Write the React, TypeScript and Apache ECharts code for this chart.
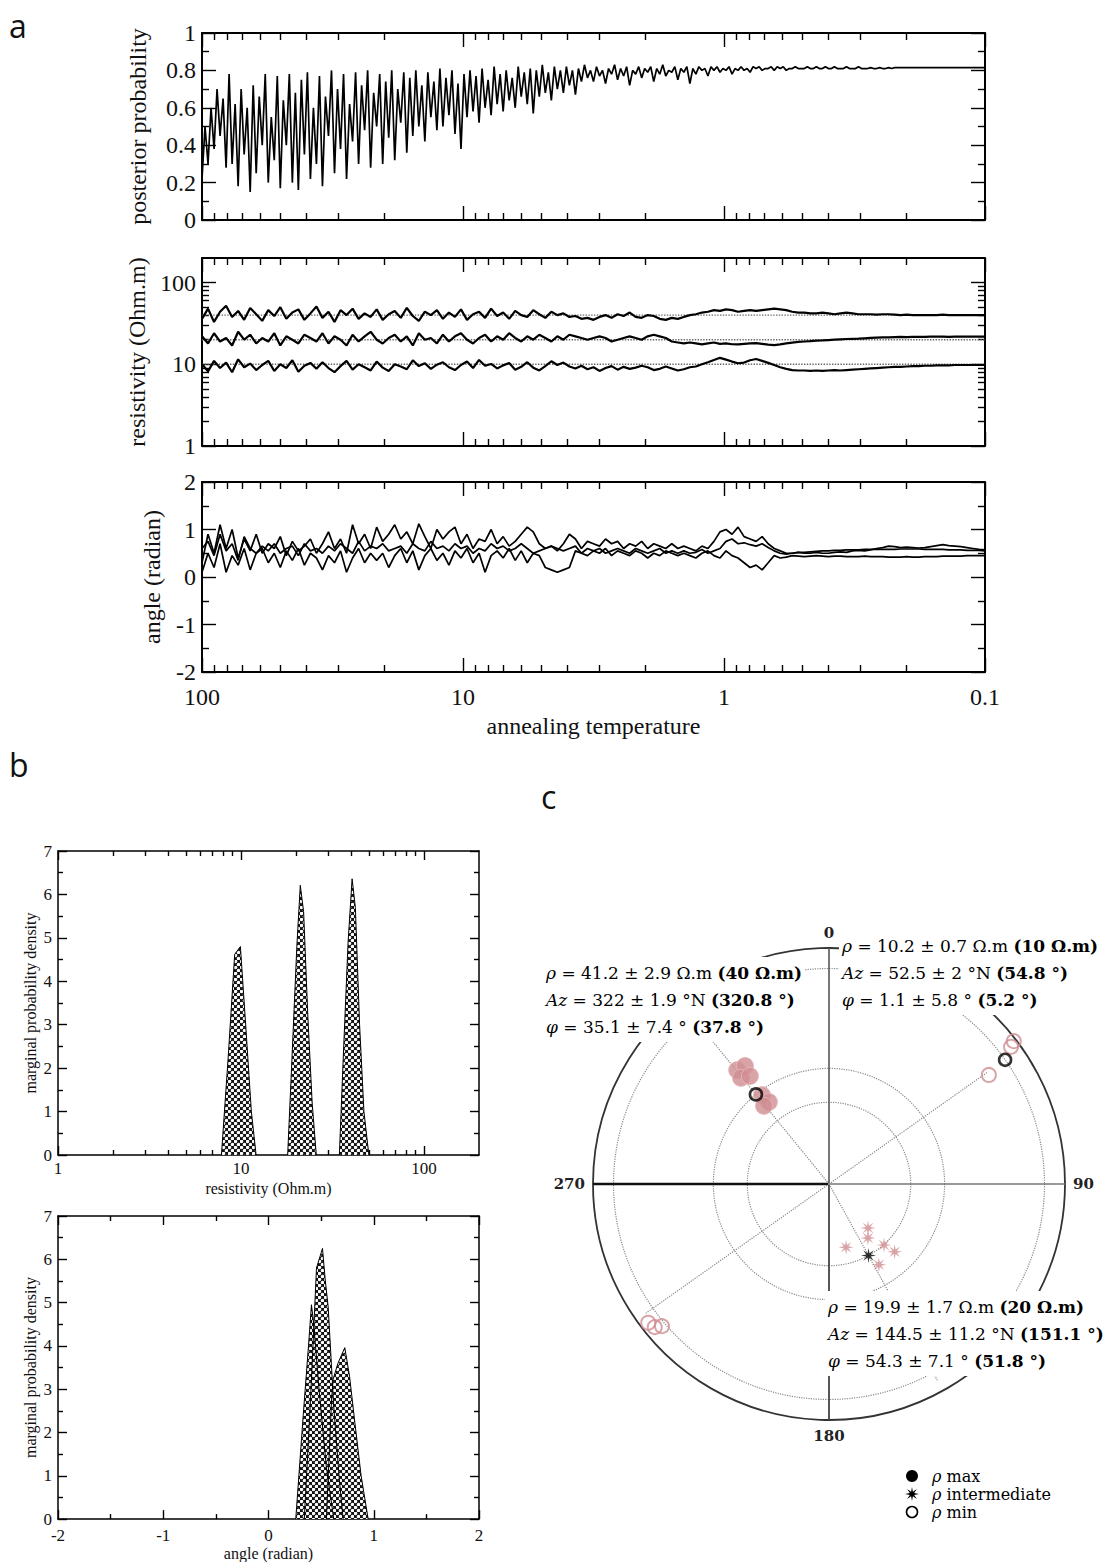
import React, { useEffect, useRef } from "react";
import * as echarts from "echarts";

// ---------------- Panel a : annealing traces ----------------
const temperatureDecades = [100, 10, 1, 0.1];

const posterior = [
  0.22, 0.5, 0.3, 0.6, 0.38, 0.7, 0.45, 0.65, 0.28, 0.78,
  0.3, 0.62, 0.18, 0.7, 0.35, 0.6, 0.15, 0.72, 0.25, 0.66,
  0.4, 0.78, 0.2, 0.55, 0.32, 0.77, 0.17, 0.64, 0.4, 0.78,
  0.2, 0.68, 0.16, 0.75, 0.35, 0.79, 0.22, 0.6, 0.3, 0.77,
  0.18, 0.66, 0.45, 0.8, 0.25, 0.7, 0.38, 0.78, 0.22, 0.62,
  0.42, 0.79, 0.3, 0.72, 0.48, 0.8, 0.28, 0.68, 0.5, 0.78,
  0.3, 0.74, 0.44, 0.8, 0.32, 0.7, 0.52, 0.79, 0.36, 0.76,
  0.45, 0.8, 0.5, 0.72, 0.42, 0.79, 0.55, 0.74, 0.48, 0.81,
  0.5, 0.76, 0.56, 0.8, 0.46, 0.73, 0.38, 0.78, 0.55, 0.8,
  0.58, 0.77, 0.52, 0.81, 0.6, 0.75, 0.56, 0.82, 0.62, 0.78,
  0.58, 0.8, 0.64, 0.76, 0.6, 0.82, 0.66, 0.79, 0.62, 0.81,
  0.57, 0.8, 0.66, 0.83, 0.68, 0.79, 0.64, 0.82, 0.7, 0.8,
  0.68, 0.82, 0.72, 0.8, 0.67, 0.81, 0.74, 0.83, 0.76, 0.8,
  0.74, 0.82, 0.77, 0.8, 0.73, 0.81, 0.78, 0.83, 0.75, 0.81,
  0.77, 0.82, 0.72, 0.8, 0.78, 0.82, 0.76, 0.81, 0.79, 0.82,
  0.74, 0.81, 0.78, 0.83, 0.77, 0.8, 0.79, 0.82, 0.75, 0.81,
  0.79, 0.82, 0.73, 0.81, 0.78, 0.82, 0.8, 0.81, 0.77, 0.82,
  0.8, 0.82, 0.79, 0.81, 0.8, 0.82, 0.78, 0.81, 0.8, 0.82,
  0.8, 0.81, 0.79, 0.82, 0.81, 0.82, 0.8, 0.81, 0.81, 0.82,
  0.8, 0.82, 0.81, 0.82, 0.8, 0.81, 0.81, 0.82, 0.81, 0.81,
  0.81, 0.82, 0.81, 0.81, 0.82, 0.81, 0.81, 0.82, 0.81, 0.81,
  0.82, 0.81, 0.81, 0.81, 0.82, 0.81, 0.81, 0.81, 0.82, 0.81,
  0.81, 0.81, 0.815, 0.81, 0.81, 0.815, 0.81, 0.81, 0.815, 0.81,
  0.815, 0.815, 0.815, 0.815, 0.815, 0.815, 0.815, 0.815, 0.815, 0.815,
  0.815, 0.815, 0.815, 0.815, 0.815, 0.815, 0.815, 0.815, 0.815, 0.815,
  0.815, 0.815, 0.815, 0.815, 0.815, 0.815, 0.815, 0.815, 0.815, 0.815,
  0.815,
];

const rhoTrace40 = [
  36, 48, 33, 44, 52, 38, 45, 35, 49, 41,
  34, 46, 39, 50, 36, 43, 47, 35, 42, 51,
  37, 44, 33, 46, 40, 48, 36, 42, 38, 47,
  35, 41, 45, 37, 49, 39, 34, 44, 40, 46,
  36, 43, 38, 47, 35, 41, 44, 37, 48, 39,
  43, 36, 45, 40, 38, 46, 41, 37, 44, 40,
  42, 38, 39, 36, 37, 35, 38, 40, 37, 41,
  39, 43, 38, 37, 40, 39, 36, 35, 37, 36,
  38, 40, 41, 43, 44, 46, 45, 47, 46, 44,
  45, 46, 45, 46, 47, 48, 47, 46, 44, 43,
  43, 42, 42, 43, 42, 41, 42, 43, 42, 41,
  41, 41, 40.5, 41, 41, 40.5, 40, 40.5, 40, 40,
  40, 40, 40, 40.5, 40, 40, 40, 40, 40, 40, 40,
];

const rhoTrace20 = [
  22, 18, 24, 19, 21, 17, 25, 20, 23, 18,
  21, 19, 24, 17, 22, 20, 18, 23, 21, 19,
  24, 18, 22, 20, 17, 23, 19, 22, 25, 20,
  18, 21, 23, 19, 22, 17, 24, 20, 21, 18,
  23, 19, 22, 24, 20, 18, 21, 23, 19, 22,
  20, 24, 21, 19, 22, 20, 23, 21, 19, 22,
  20, 23, 22, 21, 20, 21, 22, 21, 19, 20,
  21, 22, 21, 20, 22, 23, 22, 21, 19, 18.5,
  18, 18.5, 18, 17.5, 18, 18.5, 17.8, 18, 17.6, 17.5,
  17.8, 18, 18.2, 17.8, 17.4, 17.2, 17.5, 18, 18.4, 18.8,
  19, 19.2, 19.5, 19.6, 19.8, 20, 20.2, 20.4, 20.5, 20.6,
  20.8, 21, 21.2, 21.3, 21.4, 21.5, 21.6, 21.5, 21.6, 21.7,
  21.7, 21.8, 21.8, 21.8, 21.7, 21.8, 21.8, 21.8, 21.8, 21.8, 21.8,
];

const rhoTrace10 = [
  10, 8.2, 11, 9, 10.5, 8, 11.5, 9.2, 10.2, 8.5,
  9.8, 11, 8.3, 10, 9, 11.2, 8.1, 9.6, 10.4, 8.8,
  10.6, 9, 8, 9.5, 11, 8.6, 10, 9.2, 8.4, 10.8,
  9.1, 8.3, 10, 9.4, 8.7, 11.2, 9.5, 10.3, 8.8, 9.9,
  10.6, 9.2, 8.5, 9.8, 10.8, 9, 11.3, 9.6, 10.1, 8.9,
  9.7, 10.4, 8.6, 9.3, 10.6, 9.1, 8.4, 9.5, 10.9, 9.8,
  10.5, 9.4, 8.9, 9.6, 8.7, 9.2, 8.3, 9, 9.5, 8.6,
  9.3, 8.8, 9.1, 9.6, 9.2, 8.5, 8.8, 9.4, 8.9, 8.4,
  8.7, 9.2, 9.4, 10, 10.6, 11.3, 12, 11.4, 10.8, 10.3,
  10.5, 11.2, 11.6, 11, 10.4, 9.8, 9.2, 8.8, 8.5, 8.4,
  8.4, 8.3, 8.4, 8.3, 8.4, 8.5, 8.4, 8.5, 8.6, 8.7,
  8.8, 8.9, 9, 9.1, 9.2, 9.3, 9.3, 9.4, 9.5, 9.5,
  9.6, 9.6, 9.7, 9.7, 9.7, 9.8, 9.8, 9.8, 9.8, 9.8, 9.8,
];

const rhoTrue = [40, 20, 10];

const angleTraceA = [
  0.3, 0.9, 0.5, 1.1, 0.6, 1.0, 0.4, 0.8, 0.55, 0.9,
  0.5, 0.7, 0.6, 0.85, 0.45, 0.75, 0.55, 0.65, 0.8, 0.5,
  0.7, 0.95, 0.6, 0.8, 0.5, 1.1, 0.7, 0.9, 0.6, 1.05,
  0.75, 0.9, 1.1, 0.8, 0.95, 0.7, 1.12, 0.85, 0.6, 1.0,
  0.8, 0.95, 1.05, 0.7, 0.9, 0.6, 0.8, 0.75, 1.0, 0.7,
  0.85, 0.65, 0.75, 0.9, 1.05, 0.95, 0.7, 0.6, 0.65, 0.55,
  0.7, 0.9, 0.8, 0.6, 0.75, 0.7, 0.65, 0.8, 0.7, 0.75,
  0.6, 0.7, 0.65, 0.75, 0.6, 0.7, 0.65, 0.6, 0.7, 0.6,
  0.65, 0.6, 0.55, 0.65, 0.6, 0.75, 0.95, 1.0, 0.9, 1.05,
  0.85, 0.8, 0.75, 0.85, 0.7, 0.6, 0.55, 0.5, 0.5, 0.52,
  0.5, 0.5, 0.52, 0.5, 0.5, 0.52, 0.53, 0.52, 0.55, 0.56,
  0.55, 0.57, 0.6, 0.62, 0.65, 0.64, 0.62, 0.63, 0.62, 0.61,
  0.62, 0.64, 0.66, 0.68, 0.66, 0.65, 0.64, 0.62, 0.6, 0.58, 0.57,
];

const angleTraceB = [
  0.1, 0.5, 0.2, 0.7, 0.1, 0.45, 0.25, 0.6, 0.15, 0.5,
  0.6, 0.3, 0.5, 0.2, 0.55, 0.35, 0.6, 0.25, 0.5, 0.4,
  0.15, 0.45, 0.3, 0.55, 0.1, 0.4, 0.6, 0.3, 0.5, 0.35,
  0.5, 0.2, 0.45, 0.6, 0.3, 0.55, 0.15, 0.45, 0.6, 0.35,
  0.5, 0.25, 0.55, 0.4, 0.6, 0.3, 0.5, 0.1, 0.45, 0.55,
  0.4, 0.6, 0.35, 0.55, 0.3, 0.5, 0.45, 0.2, 0.15, 0.1,
  0.15, 0.2, 0.55, 0.5, 0.45, 0.55, 0.5, 0.6, 0.45, 0.55,
  0.5, 0.45, 0.55, 0.5, 0.4, 0.5, 0.45, 0.55, 0.5, 0.45,
  0.5, 0.45, 0.4, 0.5, 0.55, 0.45, 0.4, 0.55, 0.45, 0.4,
  0.3, 0.2, 0.25, 0.15, 0.3, 0.45, 0.4, 0.42, 0.45, 0.44,
  0.43, 0.44, 0.45, 0.44, 0.43, 0.44, 0.44, 0.43, 0.43, 0.43,
  0.44, 0.43, 0.43, 0.43, 0.42, 0.42, 0.42, 0.43, 0.42, 0.42,
  0.43, 0.43, 0.43, 0.44, 0.44, 0.44, 0.44, 0.45, 0.45, 0.45, 0.45,
];

const angleTraceC = [
  0.6, 0.75, 0.45, 0.9, 0.55, 0.7, 0.35, 0.85, 0.6, 0.5,
  0.65, 0.55, 0.7, 0.5, 0.6, 0.65, 0.45, 0.7, 0.55, 0.6,
  0.5, 0.65, 0.55, 0.7, 0.6, 0.5, 0.75, 0.55, 0.65, 0.6,
  0.7, 0.55, 0.6, 0.65, 0.5, 0.7, 0.6, 0.55, 0.75, 0.6,
  0.65, 0.55, 0.7, 0.6, 0.65, 0.5, 0.6, 0.55, 0.7, 0.6,
  0.65, 0.55, 0.6, 0.7, 0.6, 0.5, 0.55, 0.6, 0.65, 0.6,
  0.55, 0.6, 0.65, 0.5, 0.6, 0.55, 0.6, 0.5, 0.55, 0.6,
  0.55, 0.5, 0.6, 0.55, 0.5, 0.55, 0.6, 0.5, 0.55, 0.5,
  0.55, 0.5, 0.52, 0.58, 0.5, 0.55, 0.6, 0.75, 0.8, 0.7,
  0.72, 0.68, 0.65, 0.7, 0.62, 0.55, 0.5, 0.48, 0.5, 0.52,
  0.52, 0.53, 0.54, 0.55, 0.55, 0.56, 0.56, 0.57, 0.57, 0.57,
  0.58, 0.58, 0.58, 0.58, 0.58, 0.58, 0.59, 0.59, 0.59, 0.59,
  0.58, 0.58, 0.58, 0.58, 0.57, 0.57, 0.57, 0.56, 0.56, 0.56, 0.55,
];

// ---------------- Panel b : marginal densities ----------------
const resPeak10 = [[7.82, 0], [8.5, 2.2], [9.24, 4.62], [9.93, 4.8], [10.65, 2.9], [11.4, 1.0], [12.1, 0]];
const resPeak20 = [[18.0, 0], [18.9, 2.0], [20.2, 4.8], [21.1, 6.21], [22.0, 5.6], [23.2, 3.2], [24.5, 1.2], [25.8, 0]];
const resPeak40 = [[34.5, 0], [36.2, 2.2], [38.5, 4.9], [40.5, 6.36], [42.2, 5.7], [44.5, 3.0], [47, 1.0], [50, 0]];
const angPeak1 = [[0.259, 0], [0.33, 2.4], [0.38, 4.0], [0.408, 4.95], [0.43, 4.5], [0.48, 3.0], [0.55, 1.2], [0.62, 0]];
const angPeak2 = [[0.34, 0], [0.4, 2.8], [0.456, 5.8], [0.513, 6.25], [0.54, 5.5], [0.567, 4.9], [0.62, 2.6], [0.67, 1.0], [0.709, 0]];
const angPeak3 = [[0.55, 0], [0.6, 2.8], [0.614, 3.23], [0.66, 3.6], [0.725, 3.96], [0.77, 3.3], [0.82, 2.24], [0.88, 1.0], [0.947, 0]];

// ---------------- Panel c : stereonet ----------------
const maxAz = [321.1, 324.6, 320.3, 323.8, 323.0, 323.8, 320.2];
const maxDip = [26.4, 26.9, 29.4, 30.9, 39.5, 43.4, 43.4];
const intAz = [138.4, 144.2, 164.9, 138.0, 135.9, 148.3];
const intDip = [62.0, 58.5, 59.0, 51.6, 46.4, 46.2];
const minAz = [55.7, 53.0, 52.3, 232.5, 230.6, 229.6];
const minDip = [11.3, 2.0, 0.6, 2.0, 2.6, 4.2];
// true values: max, intermediate, min
const trueAz = [320.8, 151.1, 54.8];
const trueDip = [37.8, 51.8, 5.2];
const radialLen = [0.95, 0.95, 0.82];
const angleLabels = [0, 90, 180, 270];

const textRight = [["ρ", " = 10.2 ± 0.7 Ω.m ", "(10 Ω.m)"], ["Az", " = 52.5 ± 2 °N ", "(54.8 °)"], ["φ", " = 1.1 ± 5.8 ° ", "(5.2 °)"]];
const textLeft = [["ρ", " = 41.2 ± 2.9 Ω.m ", "(40 Ω.m)"], ["Az", " = 322 ± 1.9 °N ", "(320.8 °)"], ["φ", " = 35.1 ± 7.4 ° ", "(37.8 °)"]];
const textBottom = [["ρ", " = 19.9 ± 1.7 Ω.m ", "(20 Ω.m)"], ["Az", " = 144.5 ± 11.2 °N ", "(151.1 °)"], ["φ", " = 54.3 ± 7.1 ° ", "(51.8 °)"]];
const legendLabels = ["max", "intermediate", "min"];

// ---------------- helpers ----------------
const SERIF = '"Liberation Serif", "Times New Roman", Times, serif';
const SCHOOL = '"DejaVu Serif", "Liberation Serif", serif';
const SANS = '"Open Sans", "DejaVu Sans", sans-serif';
const PINK_TEXT = "#a8486e";
const PINK_MARK = "#cf8d92";

const MULT = [2, 3, 4, 5, 6, 7, 8, 9];
const decadeMinor = (decs: number[]) => decs.flatMap((d) => MULT.map((m) => d + Math.log10(m)));
const powLabel = (v: number) => String(Number(Math.pow(10, v).toPrecision(6)));
const traceX = (i: number, n: number) =>
  Math.log10(temperatureDecades[0]) -
  ((Math.log10(temperatureDecades[0]) - Math.log10(temperatureDecades[3])) * i) / (n - 1);
const proj = (dip: number) => Math.tan((((90 - dip) / 2) * Math.PI) / 180);

function starPoints(cx: number, cy: number, R: number, inner: number) {
  const pts: number[][] = [];
  for (let k = 0; k < 16; k++) {
    const a = (Math.PI * k) / 8;
    const r = k % 2 === 0 ? R : R * inner;
    pts.push([cx + r * Math.sin(a), cy - r * Math.cos(a)]);
  }
  return pts;
}
const STAR_PATH =
  "path://M" + starPoints(0, 0, 10, 0.33).map((p) => p[0].toFixed(3) + " " + p[1].toFixed(3)).join(" L") + " Z";

function buildOption(hatch: any) {
  const xAxis: any[] = [];
  const yAxis: any[] = [];
  const tickStyle = { color: "#000", width: 1.4 };

  function addAxes(list: any[], dim: string, gridIndex: number, s: any) {
    const sides = dim === "x" ? ["bottom", "top"] : ["left", "right"];
    let mainIdx = -1;
    sides.forEach((pos, si) => {
      const ax: any = {
        type: "value",
        gridIndex,
        position: pos,
        min: s.min,
        max: s.max,
        inverse: !!s.inverse,
        splitLine: { show: false },
        axisLine: { show: true, onZero: false, lineStyle: { color: "#000", width: s.lw } },
        axisTick: { show: true, inside: true, length: s.majorLen, lineStyle: tickStyle },
        axisLabel: {
          show: si === 0 && s.labels,
          margin: s.labelMargin,
          fontSize: s.labelSize,
          fontFamily: SERIF,
          color: "#111",
        },
      };
      if (s.fmt) ax.axisLabel.formatter = s.fmt;
      if (si === 0 && s.name) {
        ax.name = s.name;
        ax.nameLocation = "middle";
        ax.nameGap = s.nameGap;
        ax.nameTextStyle = { fontSize: s.nameSize, fontFamily: SERIF, color: "#111" };
      }
      if (s.major) {
        ax.axisTick.customValues = s.major;
        ax.axisLabel.customValues = s.major;
      } else {
        ax.interval = s.interval;
        ax.minorTick = { show: true, splitNumber: s.minorSplit, length: s.minorLen, lineStyle: tickStyle };
      }
      if (si === 0) mainIdx = list.length;
      list.push(ax);
      if (s.minor) {
        list.push({
          type: "value",
          gridIndex,
          position: pos,
          min: s.min,
          max: s.max,
          inverse: !!s.inverse,
          splitLine: { show: false },
          axisLine: { show: false, onZero: false },
          axisTick: { show: true, inside: true, length: s.minorLen, customValues: s.minor, lineStyle: tickStyle },
          axisLabel: { show: false },
        });
      }
    });
    return mainIdx;
  }

  const grid = [
    { left: 202, top: 33, width: 783, height: 187 },
    { left: 202, top: 258, width: 783, height: 188 },
    { left: 202, top: 482, width: 783, height: 190 },
    { left: 58, top: 851, width: 421, height: 304 },
    { left: 58, top: 1216, width: 421, height: 305 },
  ];

  const tLog = temperatureDecades.map((t) => Math.log10(t));
  const ax: number[] = [];
  const ay: number[] = [];
  for (let g = 0; g < 3; g++) {
    ax.push(
      addAxes(xAxis, "x", g, {
        min: Math.min(...tLog), max: Math.max(...tLog), inverse: true,
        major: tLog, minor: decadeMinor([-1, 0, 1]), fmt: powLabel,
        labels: g === 2, labelSize: 24, labelMargin: 13,
        name: g === 2 ? "annealing temperature" : null, nameGap: 42, nameSize: 24,
        majorLen: 14, minorLen: 7, lw: 2,
      })
    );
  }
  ay.push(addAxes(yAxis, "y", 0, {
    min: 0, max: 1, interval: 0.2, minorSplit: 2, labels: true, labelSize: 24, labelMargin: 6,
    name: "posterior probability", nameGap: 52, nameSize: 24, majorLen: 14, minorLen: 7, lw: 2,
  }));
  ay.push(addAxes(yAxis, "y", 1, {
    min: 0, max: Math.log10(200), major: [0, 1, 2], minor: decadeMinor([0, 1]), fmt: powLabel,
    labels: true, labelSize: 24, labelMargin: 6,
    name: "resistivity (Ohm.m)", nameGap: 52, nameSize: 24, majorLen: 14, minorLen: 7, lw: 2,
  }));
  ay.push(addAxes(yAxis, "y", 2, {
    min: -2, max: 2, interval: 1, minorSplit: 2, labels: true, labelSize: 24, labelMargin: 6,
    name: "angle (radian)", nameGap: 38, nameSize: 24, majorLen: 14, minorLen: 7, lw: 2,
  }));
  const bx1 = addAxes(xAxis, "x", 3, {
    min: 0, max: Math.log10(200), major: [0, 1, 2], minor: decadeMinor([0, 1]), fmt: powLabel,
    labels: true, labelSize: 17, labelMargin: 5,
    name: "resistivity (Ohm.m)", nameGap: 25, nameSize: 16, majorLen: 9, minorLen: 5, lw: 1.5,
  });
  const by1 = addAxes(yAxis, "y", 3, {
    min: 0, max: 7, interval: 1, minorSplit: 2, labels: true, labelSize: 17, labelMargin: 6,
    name: "marginal probability density", nameGap: 20, nameSize: 16, majorLen: 9, minorLen: 5, lw: 1.5,
  });
  const bx2 = addAxes(xAxis, "x", 4, {
    min: -2, max: 2, interval: 1, minorSplit: 2, labels: true, labelSize: 17, labelMargin: 8,
    name: "angle (radian)", nameGap: 25, nameSize: 16, majorLen: 9, minorLen: 5, lw: 1.5,
  });
  const by2 = addAxes(yAxis, "y", 4, {
    min: 0, max: 7, interval: 1, minorSplit: 2, labels: true, labelSize: 17, labelMargin: 6,
    name: "marginal probability density", nameGap: 20, nameSize: 16, majorLen: 9, minorLen: 5, lw: 1.5,
  });

  const series: any[] = [];
  const line = (xi: number, yi: number, data: any[], style: any, extra: any = {}) => ({
    type: "line", xAxisIndex: xi, yAxisIndex: yi, data, symbol: "none", showSymbol: false,
    lineStyle: style, clip: true, silent: true, z: 3, ...extra,
  });

  series.push(line(ax[0], ay[0], posterior.map((v, i) => [traceX(i, posterior.length), v]), { color: "#000", width: 1.7 }));
  rhoTrue.forEach((v) =>
    series.push(line(ax[1], ay[1], [[tLog[0], Math.log10(v)], [tLog[3], Math.log10(v)]], { color: "#666", width: 1.4, type: "dotted" }, { z: 2 }))
  );
  [rhoTrace40, rhoTrace20, rhoTrace10].forEach((arr) =>
    series.push(line(ax[1], ay[1], arr.map((v, i) => [traceX(i, arr.length), Math.log10(v)]), { color: "#000", width: 2.2 }))
  );
  [angleTraceA, angleTraceB, angleTraceC].forEach((arr) =>
    series.push(line(ax[2], ay[2], arr.map((v, i) => [traceX(i, arr.length), v]), { color: "#000", width: 1.7 }))
  );
  [resPeak10, resPeak20, resPeak40].forEach((p) =>
    series.push(line(bx1, by1, p.map(([x, y]) => [Math.log10(x), y]), { color: "#000", width: 1 }, { areaStyle: { color: hatch, opacity: 1 } }))
  );
  [angPeak1, angPeak2, angPeak3].forEach((p) =>
    series.push(line(bx2, by2, p, { color: "#000", width: 1 }, { areaStyle: { color: hatch, opacity: 1 } }))
  );

  // ---- polar (panel c) ----
  const pLine = (data: any[], style: any, z = 2) => ({
    type: "line", coordinateSystem: "polar", polarIndex: 0, data, symbol: "none", showSymbol: false,
    lineStyle: style, silent: true, z,
  });
  series.push(pLine([[0, 0], [1, 0]], { color: "#555", width: 1.6 }));
  series.push(pLine([[0, 0], [1, 180]], { color: "#444", width: 1.8 }));
  series.push(pLine([[0, 0], [1, 270]], { color: "#111", width: 2.4 }));
  series.push(pLine([[0, 0], [1, 90]], { color: "#777", width: 1.6 }));
  trueAz.forEach((az, k) => series.push(pLine([[0, az], [radialLen[k], az]], { color: "#888", width: 1.2, type: "dotted" })));
  series.push(pLine([[0, trueAz[2] + 180], [0.95, trueAz[2] + 180]], { color: "#888", width: 1.2, type: "dotted" }));

  const pScatter = (az: number[], dip: number[], extra: any) => ({
    type: "scatter", coordinateSystem: "polar", polarIndex: 0, silent: true,
    data: az.map((a, i) => [proj(dip[i]), a]), ...extra,
  });
  series.push(pScatter(maxAz, maxDip, { symbol: "circle", symbolSize: 17, itemStyle: { color: PINK_MARK, borderColor: "#e6b9bc", borderWidth: 1 }, z: 5 }));
  series.push(pScatter(intAz, intDip, { symbol: STAR_PATH, symbolSize: 15, itemStyle: { color: PINK_MARK }, z: 5 }));
  series.push(pScatter(minAz, minDip, { symbol: "circle", symbolSize: 14, itemStyle: { color: "rgba(255,255,255,0)", borderColor: PINK_MARK, borderWidth: 2 }, z: 5 }));
  series.push(pScatter([trueAz[0], trueAz[2]], [trueDip[0], trueDip[2]], { symbol: "circle", symbolSize: 12, itemStyle: { color: "rgba(255,255,255,0)", borderColor: "#000", borderWidth: 2.6 }, z: 6 }));
  series.push(pScatter([trueAz[1]], [trueDip[1]], { symbol: STAR_PATH, symbolSize: 15, itemStyle: { color: "#000" }, z: 6 }));

  const rich = {
    i: { fontFamily: SCHOOL, fontSize: 17, fontStyle: "italic", color: PINK_TEXT, lineHeight: 27 },
    p: { fontFamily: SCHOOL, fontSize: 17, color: PINK_TEXT, lineHeight: 27 },
    k: { fontFamily: SCHOOL, fontSize: 17, color: "#111", fontWeight: "bold", lineHeight: 27 },
  };
  const block = (lines: string[][], x: number, y: number) => ({
    type: "text", x, y, z: 100, silent: true,
    style: {
      text: lines.map((l) => `{i|${l[0]}}{p|${l[1]}}{k|${l[2]}}`).join("\n"),
      rich, backgroundColor: "#fff", padding: [2, 3], align: "left", verticalAlign: "top",
    },
  });

  const legendY = [1476, 1494, 1512];
  const legendRich = {
    i: { fontFamily: SCHOOL, fontSize: 16, fontStyle: "italic", color: "#111" },
    t: { fontFamily: SCHOOL, fontSize: 16, color: "#111" },
  };
  const graphicEls: any[] = [
    { type: "text", x: 9, y: 25, style: { text: "a", font: `32px ${SANS}`, fill: "#111", verticalAlign: "middle" } },
    { type: "text", x: 9, y: 764, style: { text: "b", font: `32px ${SANS}`, fill: "#111", verticalAlign: "middle" } },
    { type: "text", x: 541, y: 796, style: { text: "c", font: `32px ${SANS}`, fill: "#111", verticalAlign: "middle" } },
    block(textRight, 839, 930),
    block(textLeft, 543, 957),
    block(textBottom, 825, 1291),
    { type: "circle", z: 100, shape: { cx: 912, cy: legendY[0], r: 6 }, style: { fill: "#000" } },
    { type: "polygon", z: 100, shape: { points: starPoints(912, legendY[1], 7, 0.33) }, style: { fill: "#000" } },
    { type: "circle", z: 100, shape: { cx: 912, cy: legendY[2], r: 5.5 }, style: { fill: "none", stroke: "#000", lineWidth: 1.6 } },
  ];
  legendLabels.forEach((lab, k) =>
    graphicEls.push({
      type: "text", z: 100, x: 932, y: legendY[k],
      style: { text: `{i|ρ}{t| ${lab}}`, rich: legendRich, verticalAlign: "middle", align: "left" },
    })
  );

  return {
    animation: false,
    backgroundColor: "#fff",
    grid,
    xAxis,
    yAxis,
    polar: { center: [829, 1184], radius: 236 },
    angleAxis: {
      type: "value", min: 0, max: 360, interval: 90, startAngle: 90, clockwise: true,
      axisLine: { show: true, lineStyle: { color: "#333", width: 1.8 } },
      axisTick: { show: false },
      splitLine: { show: false },
      axisLabel: {
        show: true, margin: 8, customValues: angleLabels,
        fontFamily: SCHOOL, fontWeight: "bold", fontSize: 15, color: "#222",
      },
    },
    radiusAxis: {
      type: "value", min: 0, max: 1,
      axisLine: { show: false },
      axisLabel: { show: false },
      axisTick: { show: false, customValues: trueDip.map(proj) },
      splitLine: { show: true, lineStyle: { color: "#8a8a8a", width: 1.2, type: "dotted" } },
    },
    series,
    graphic: { elements: graphicEls },
  };
}

export default function App() {
  const ref = useRef<HTMLDivElement>(null);
  useEffect(() => {
    const tile = document.createElement("canvas");
    tile.width = 6;
    tile.height = 6;
    const ctx = tile.getContext("2d")!;
    ctx.fillStyle = "#111";
    ctx.fillRect(0, 0, 6, 6);
    ctx.fillStyle = "#fff";
    [[1.5, 1.5], [4.5, 4.5]].forEach(([cx, cy]) => {
      ctx.beginPath();
      ctx.arc(cx, cy, 1.75, 0, Math.PI * 2);
      ctx.fill();
    });
    const hatch = { image: tile.toDataURL(), repeat: "repeat", imageWidth: 6, imageHeight: 6 };
    const chart = echarts.init(ref.current!, null, { renderer: "svg" });
    chart.setOption(buildOption(hatch) as any);
    return () => chart.dispose();
  }, []);
  return (
    <div
      ref={ref}
      style={{ position: "absolute", left: 0, top: 0, width: 1114, height: 1562, background: "#fff" }}
    />
  );
}
